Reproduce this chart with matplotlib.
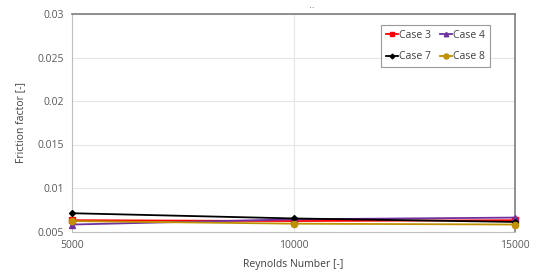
import matplotlib.pyplot as plt

reynolds = [5000, 10000, 15000]
case3 = [0.0063, 0.0062, 0.0063]
case4 = [0.0058, 0.0064, 0.0066]
case7 = [0.0071, 0.0065, 0.0061]
case8 = [0.0062, 0.0059, 0.0058]

plt.rcParams['font.family'] = ['Open Sans', 'DejaVu Sans']

fig = plt.figure(figsize=(5.5, 2.76), dpi=100)
ax = fig.add_axes([72/550, 1 - 231.5/276, (515-72)/550, (231.5-14)/276])

series = [
    ("Case 3", case3, "#FF0000", "s", 4),
    ("Case 4", case4, "#7030A0", "^", 4),
    ("Case 7", case7, "#000000", "D", 3),
    ("Case 8", case8, "#BF9000", "o", 4.5),
]
handles = {}
for label, vals, col, mk, ms in series:
    h, = ax.plot(reynolds, vals, color=col, marker=mk, markersize=ms, linewidth=1.3,
                 label=label, clip_on=False, zorder=3)
    handles[label] = h

ax.set_xlim(5000, 15000)
ax.set_ylim(0.005, 0.03)
ax.set_xticks([5000, 10000, 15000])
ax.set_xticklabels(["5000", "10000", "15000"])
ax.set_yticks([0.005, 0.01, 0.015, 0.02, 0.025, 0.03])
ax.set_yticklabels(["0.005", "0.01", "0.015", "0.02", "0.025", "0.03"])
ax.grid(True, color="#E6E6E6", linewidth=0.8)
ax.set_axisbelow(True)
ax.tick_params(length=0, labelsize=7.5, labelcolor="#595959", pad=6)

for s in ["left", "bottom"]:
    ax.spines[s].set_color("#BFBFBF")
for s in ["top", "right"]:
    ax.spines[s].set_color("#7F7F7F")
    ax.spines[s].set_linewidth(1.2)

ax.set_xlabel("Reynolds Number [-]", fontsize=7.5, color="#404040", labelpad=6)
ax.set_ylabel("Friction factor [-]", fontsize=7.5, color="#404040", labelpad=8)

order = ["Case 3", "Case 7", "Case 4", "Case 8"]
leg = ax.legend([handles[k] for k in order], order, ncol=2, loc="upper right",
                bbox_to_anchor=(0.955, 0.975), fontsize=7.5, markerscale=0.8,
                frameon=True, fancybox=False, edgecolor="#808080", handlelength=1.1,
                handletextpad=0.1, columnspacing=0.9, labelspacing=1.0, borderpad=0.5)
leg.get_frame().set_linewidth(0.8)
for t in leg.get_texts():
    t.set_color("#404040")

fig.text(312/550, 1 - 8/276, "‥", fontsize=6, color="#595959", ha="center")

fig.savefig("out.png", dpi=100)
